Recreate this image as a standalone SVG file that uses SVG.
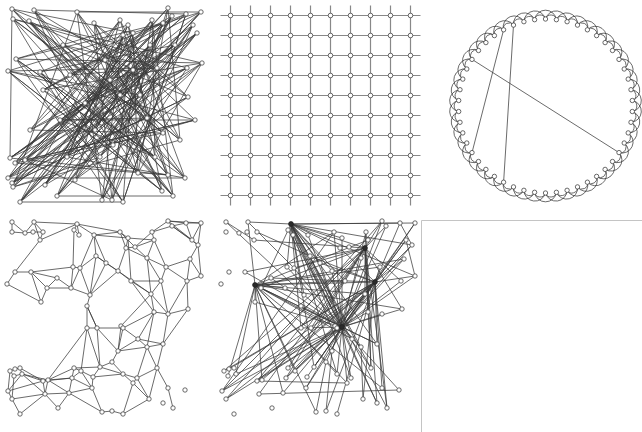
<svg xmlns="http://www.w3.org/2000/svg" width="642" height="432" viewBox="0 0 642 432">
<style>
.e{fill:none;stroke:#3a3a3a;stroke-width:.75}
.gl{fill:none;stroke:#888;stroke-width:1.2}
.n circle{fill:#fff;stroke:#444;stroke-width:.8}
.h circle{fill:#2a2a2a;stroke:#222}
.fr{fill:none;stroke:#c4c4c4;stroke-width:1}
</style>
<rect width="642" height="432" fill="#fff"/>
<path class="fr" d="M421.5 432V220.5H642"/>
<g id="connectors">
<g id="edges-random">
<path class="e" d="M12 9L163 133L13 19L173 196L34 10L185 178L16 59L163 23L8 178L147 118L77 12L162 191L8 71L201 12L20 202L133 70L29 21L168 175L10 158L197 33L57 196L128 25L15 163L187 68L102 200L168 8L12 183L188 97L94 23L138 173L202 63L43 90L172 16L100 157L13 187L180 140L120 20L75 180L193 25L113 145L85 103L186 14L123 202L40 72L155 157L152 20L45 185L133 33L30 130L157 68L112 200L25 160L175 45L60 120L195 120L67 157L123 35L95 130L150 45L20 202"/>
<path class="e" d="M34 10L100 157L197 33L8 178L120 20L168 175L12 9L157 68L57 196L172 16L85 103L10 158L133 70L123 202L13 19L187 68L120 95L13 187L152 20L140 95L8 71L162 191L128 25L67 157L201 12L15 163L163 133L105 60L185 178L29 21L70 75L173 196L123 35L102 200L77 12L180 140L63 45L188 97L12 183L163 23L95 130L202 63L20 202L110 80L186 14L43 90L155 157L16 59L112 200L193 25L60 120L147 118L94 23L195 120L25 160L168 8L138 173L133 33L45 185L113 145L40 72L175 45L30 130"/>
<path class="e" d="M77 12L13 187L175 45L10 158L140 95L57 196L202 63L13 19L147 118L102 200L150 45L8 178L187 68L85 103L173 196L152 20L25 160L195 120L8 71L100 157L193 25L20 202L120 20L30 130L163 133L29 21L120 95L162 191L43 90L201 12L67 157L185 178L128 25L16 59L138 173L34 10L133 70L45 185L197 33L12 183L95 130L172 16L75 180L188 97L123 35L15 163L168 175L94 23L112 200L133 33L12 9L155 157L60 120L123 202L186 14L40 72L113 145L163 23L70 75L157 68L63 45L180 140L168 8"/>
<path class="e" d="M12 9L10 158M34 10L186 14M77 12L201 12M8 71L157 68M16 59L202 63M8 178L185 178M20 202L123 202M57 196L173 196"/>
</g>
<g id="edges-grid">
<path class="gl" d="M220.5 15.5H420.5M220.5 35.5H420.5M220.5 55.5H420.5M220.5 75.5H420.5M220.5 95.5H420.5M220.5 115.5H420.5M220.5 135.5H420.5M220.5 155.5H420.5M220.5 175.5H420.5M220.5 195.5H420.5M230.5 5.5V205.5M250.5 5.5V205.5M270.5 5.5V205.5M290.5 5.5V205.5M310.5 5.5V205.5M330.5 5.5V205.5M350.5 5.5V205.5M370.5 5.5V205.5M390.5 5.5V205.5M410.5 5.5V205.5"/>
</g>
<g id="edges-ring">
<path class="e" d="M545.5 19A5.6 5.6 0 0 1 556.4 19.7A5.6 5.6 0 0 1 567.1 21.7A5.6 5.6 0 0 1 577.5 25.1A5.6 5.6 0 0 1 587.4 29.8A5.6 5.6 0 0 1 596.6 35.6A5.6 5.6 0 0 1 605.1 42.6A5.6 5.6 0 0 1 612.5 50.5A5.6 5.6 0 0 1 619 59.4A5.6 5.6 0 0 1 624.2 69A5.6 5.6 0 0 1 628.2 79.1A5.6 5.6 0 0 1 631 89.7A5.6 5.6 0 0 1 632.3 100.5A5.6 5.6 0 0 1 632.3 111.5A5.6 5.6 0 0 1 631 122.3A5.6 5.6 0 0 1 628.2 132.9A5.6 5.6 0 0 1 624.2 143A5.6 5.6 0 0 1 619 152.6A5.6 5.6 0 0 1 612.5 161.5A5.6 5.6 0 0 1 605.1 169.4A5.6 5.6 0 0 1 596.6 176.4A5.6 5.6 0 0 1 587.4 182.2A5.6 5.6 0 0 1 577.5 186.9A5.6 5.6 0 0 1 567.1 190.3A5.6 5.6 0 0 1 556.4 192.3A5.6 5.6 0 0 1 545.5 193A5.6 5.6 0 0 1 534.6 192.3A5.6 5.6 0 0 1 523.9 190.3A5.6 5.6 0 0 1 513.5 186.9A5.6 5.6 0 0 1 503.6 182.2A5.6 5.6 0 0 1 494.4 176.4A5.6 5.6 0 0 1 485.9 169.4A5.6 5.6 0 0 1 478.5 161.5A5.6 5.6 0 0 1 472 152.6A5.6 5.6 0 0 1 466.8 143A5.6 5.6 0 0 1 462.8 132.9A5.6 5.6 0 0 1 460 122.3A5.6 5.6 0 0 1 458.7 111.5A5.6 5.6 0 0 1 458.7 100.5A5.6 5.6 0 0 1 460 89.7A5.6 5.6 0 0 1 462.8 79.1A5.6 5.6 0 0 1 466.8 69A5.6 5.6 0 0 1 472 59.4A5.6 5.6 0 0 1 478.5 50.5A5.6 5.6 0 0 1 485.9 42.6A5.6 5.6 0 0 1 494.4 35.6A5.6 5.6 0 0 1 503.6 29.8A5.6 5.6 0 0 1 513.5 25.1A5.6 5.6 0 0 1 523.9 21.7A5.6 5.6 0 0 1 534.6 19.7A5.6 5.6 0 0 1 545.5 19"/>
<path class="e" d="M545.5 19A11 11 0 0 1 567.1 21.7A11 11 0 0 1 587.4 29.8A11 11 0 0 1 605.1 42.6A11 11 0 0 1 619 59.4A11 11 0 0 1 628.2 79.1A11 11 0 0 1 632.3 100.5A11 11 0 0 1 631 122.3A11 11 0 0 1 624.2 143A11 11 0 0 1 612.5 161.5A11 11 0 0 1 596.6 176.4A11 11 0 0 1 577.5 186.9A11 11 0 0 1 556.4 192.3A11 11 0 0 1 534.6 192.3A11 11 0 0 1 513.5 186.9A11 11 0 0 1 494.4 176.4A11 11 0 0 1 478.5 161.5A11 11 0 0 1 466.8 143A11 11 0 0 1 460 122.3A11 11 0 0 1 458.7 100.5A11 11 0 0 1 462.8 79.1A11 11 0 0 1 472 59.4A11 11 0 0 1 485.9 42.6A11 11 0 0 1 503.6 29.8A11 11 0 0 1 523.9 21.7A11 11 0 0 1 545.5 19"/>
<path class="e" d="M556.4 19.7A11 11 0 0 1 577.5 25.1A11 11 0 0 1 596.6 35.6A11 11 0 0 1 612.5 50.5A11 11 0 0 1 624.2 69A11 11 0 0 1 631 89.7A11 11 0 0 1 632.3 111.5A11 11 0 0 1 628.2 132.9A11 11 0 0 1 619 152.6A11 11 0 0 1 605.1 169.4A11 11 0 0 1 587.4 182.2A11 11 0 0 1 567.1 190.3A11 11 0 0 1 545.5 193A11 11 0 0 1 523.9 190.3A11 11 0 0 1 503.6 182.2A11 11 0 0 1 485.9 169.4A11 11 0 0 1 472 152.6A11 11 0 0 1 462.8 132.9A11 11 0 0 1 458.7 111.5A11 11 0 0 1 460 89.7A11 11 0 0 1 466.8 69A11 11 0 0 1 478.5 50.5A11 11 0 0 1 494.4 35.6A11 11 0 0 1 513.5 25.1A11 11 0 0 1 534.6 19.7A11 11 0 0 1 556.4 19.7"/>
<path class="e" d="M472 59.4L619 152.6M503.6 29.8L472 152.6M513.5 25.1L503.6 182.2"/>
</g>
<g id="edges-geometric">
<path class="e" d="M12 222L25 233L34 222L43 232L40 240L34 222M12 232L25 233L33 232L43 232M40 240L77 224L34 222M40 240L15 272L31 272L73 267L80 268L96 256L94 235L77 224L74 230L79 235L77 224M94 235L120 232L128 238L126 248L120 232M94 235L106 263L96 256M126 248L135 247L152 232L168 221M152 232L154 240L147 258L166 267L190 259L198 245M154 240L166 267M168 221L172 226L186 223L168 221L192 240L172 226L198 245L192 240L186 223L201 223L192 240M201 223L198 245M168 221L201 223M190 259L201 276L187 281L168 314L188 309M161 281L151 294L154 312L168 314M161 281L131 281L118 271L106 263M131 281L151 294M131 281L154 312M118 271L151 294M15 272L7 284M80 268L71 288L57 278L47 288L41 302M31 272L57 278M106 263L90 295L96 256M90 295L87 306L87 328L97 328L87 306M90 295L118 271M71 288L90 295M97 328L123 328L121 326M123 328L138 339L147 347L163 344L157 368L147 347M138 339L163 344M121 326L151 294M123 328L154 312M138 339L154 312M163 344L168 314M163 344L188 309M87 328L81 371L74 368L72 378L81 371L93 377L100 367L112 362L118 351L121 326M118 351L147 347M112 362L123 374L133 383L137 378L123 374M137 378L157 368M133 383L149 399M92 388L93 377L123 374M100 367L123 374M72 378L69 393M87 328L48 380L43 381L45 394L48 380M22 374L48 380M22 374L43 381M20 368L22 374M15 369L20 368M10 371L15 369M10 371L14 376L22 374M8 391L22 374M8 391L12 399L20 414M8 391L43 381M12 399L45 394M45 394L69 393M45 394L58 408M48 380L69 393M74 368L48 380M69 393L102 412L112 411L123 414L149 399M173 408L168 388L157 368M128 238L131 281M126 248L118 271M94 235L80 268M74 230L73 267M147 258L161 281M147 258L151 294M94 235L128 238M120 232L135 247M172 226L152 232M12 222L12 232M7 284L41 302M41 302L31 272"/>
<path class="e" d="M77 224L120 232M128 238L154 240M126 248L147 258M135 247L147 258M135 247L154 240M96 256L118 271M80 268L90 295M73 267L71 288M31 272L47 288M47 288L71 288M87 306L97 328M151 294L168 314M161 281L168 314M166 267L187 281M166 267L161 281M190 259L187 281M198 245L201 276M187 281L188 309M154 312L147 347M123 328L118 351M138 339L118 351M147 347L137 378M157 368L149 399M137 378L149 399M81 371L92 388M72 378L92 388M69 393L92 388M74 368L100 367M87 328L100 367M97 328L100 367M97 328L118 351M48 380L72 378M43 381L72 378M20 368L43 381M10 371L8 391M14 376L12 399M22 374L45 394M58 408L69 393M20 414L45 394M102 412L92 388M123 414L133 383"/>
</g>
<g id="edges-scalefree" transform="translate(214 0)">
<path class="e" d="M77 224L94 235M77 224L126 248M77 224L106 263M77 224L118 271M77 224L131 281M77 224L90 295M77 224L87 328M77 224L123 328M77 224L147 347M77 224L157 368M77 224L163 344M77 224L137 378M77 224L163 403M77 224L173 408M77 224L201 223M77 224L186 223M77 224L198 245M77 224L201 276M77 224L128 238M77 224L73 267M77 224L47 288M77 224L123 374M77 224L100 367"/>
<path class="e" d="M151 248L77 224M151 248L40 240M151 248L31 272M151 248L47 288M151 248L43 381M151 248L8 391M151 248L10 371M151 248L45 394M151 248L72 378M151 248L74 368M151 248L97 328M151 248L118 351M151 248L151 294M151 248L154 312M151 248L157 368M151 248L173 408M151 248L163 403M151 248L172 226M151 248L168 221M151 248L152 232M151 248L188 309M151 248L187 281M151 248L80 268"/>
<path class="e" d="M41 285L34 222M41 285L120 232M41 285L154 240M41 285L190 259M41 285L161 282M41 285L166 267M41 285L131 281M41 285L151 294M41 285L188 309M41 285L123 328M41 285L138 339M41 285L163 344M41 285L168 388M41 285L133 383M41 285L123 374M41 285L48 380M41 285L69 393M41 285L81 371M41 285L102 412M41 285L14 376M41 285L22 374M41 285L71 288M41 285L41 302"/>
<path class="e" d="M161 282L8 391M161 282L12 399M161 282L43 381M161 282L48 380M161 282L10 371M161 282L15 369M161 282L72 378M161 282L69 393M161 282L81 371M161 282L100 367M161 282L92 388M161 282L112 411M161 282L123 414M161 282L149 399M161 282L168 388M161 282L173 408M161 282L163 344M161 282L123 328M161 282L192 240M161 282L201 223M161 282L186 223M161 282L198 245M161 282L190 259M161 282L201 276M161 282L166 267M161 282L106 263M161 282L96 256M161 282L126 248M161 282L57 278"/>
<path class="e" d="M128 327L74 230M128 327L79 235M128 327L94 235M128 327L120 232M128 327L128 238M128 327L152 232M128 327L168 221M128 327L172 226M128 327L201 223M128 327L192 240M128 327L198 245M128 327L190 259M128 327L187 281M128 327L201 276M128 327L188 309M128 327L168 314M128 327L154 312M128 327L151 294M128 327L118 271M128 327L106 263M128 327L96 256M128 327L80 268M128 327L73 267M128 327L57 278M128 327L47 288M128 327L41 302M128 327L31 272M128 327L90 295M128 327L87 306M128 327L87 328M128 327L147 347M128 327L163 344M128 327L157 368M128 327L185 390M128 327L163 403M128 327L137 378M128 327L133 383M128 327L123 374M128 327L112 362M128 327L100 367M128 327L93 377M128 327L92 388M128 327L81 371M128 327L74 368M128 327L72 378M128 327L43 381M128 327L8 391M128 327L12 399M128 327L22 374"/>
<path class="e" d="M12 222L40 240M34 222L77 224M43 232L96 256M43 381L133 383M45 394L185 390M152 232L157 368M149 399L147 347M186 223L198 245M192 240L201 276M102 412L112 362M112 411L118 351M12 222L90 295M34 222L80 268M8 391L120 232M12 399L168 221"/>
</g>
</g>
<g id="nodes-random" class="n">
<g id="a1"><circle cx="12" cy="9" r="2.2"/></g><g id="a2"><circle cx="34" cy="10" r="2.2"/></g><g id="a3"><circle cx="77" cy="12" r="2.2"/></g><g id="a4"><circle cx="168" cy="8" r="2.2"/></g><g id="a5"><circle cx="172" cy="16" r="2.2"/></g><g id="a6"><circle cx="186" cy="14" r="2.2"/></g><g id="a7"><circle cx="201" cy="12" r="2.2"/></g><g id="a8"><circle cx="13" cy="19" r="2.2"/></g><g id="a9"><circle cx="29" cy="21" r="2.2"/></g><g id="a10"><circle cx="94" cy="23" r="2.2"/></g><g id="a11"><circle cx="120" cy="20" r="2.2"/></g><g id="a12"><circle cx="128" cy="25" r="2.2"/></g><g id="a13"><circle cx="152" cy="20" r="2.2"/></g><g id="a14"><circle cx="163" cy="23" r="2.2"/></g><g id="a15"><circle cx="193" cy="25" r="2.2"/></g><g id="a16"><circle cx="197" cy="33" r="2.2"/></g><g id="a17"><circle cx="133" cy="33" r="2.2"/></g><g id="a18"><circle cx="123" cy="35" r="2.2"/></g><g id="a19"><circle cx="16" cy="59" r="2.2"/></g><g id="a20"><circle cx="8" cy="71" r="2.2"/></g><g id="a21"><circle cx="202" cy="63" r="2.2"/></g><g id="a22"><circle cx="187" cy="68" r="2.2"/></g><g id="a23"><circle cx="157" cy="68" r="2.2"/></g><g id="a24"><circle cx="133" cy="70" r="2.2"/></g><g id="a25"><circle cx="43" cy="90" r="2.2"/></g><g id="a26"><circle cx="85" cy="103" r="2.2"/></g><g id="a27"><circle cx="147" cy="118" r="2.2"/></g><g id="a28"><circle cx="188" cy="97" r="2.2"/></g><g id="a29"><circle cx="163" cy="133" r="2.2"/></g><g id="a30"><circle cx="10" cy="158" r="2.2"/></g><g id="a31"><circle cx="15" cy="163" r="2.2"/></g><g id="a32"><circle cx="25" cy="160" r="2.2"/></g><g id="a33"><circle cx="8" cy="178" r="2.2"/></g><g id="a34"><circle cx="12" cy="183" r="2.2"/></g><g id="a35"><circle cx="13" cy="187" r="2.2"/></g><g id="a36"><circle cx="185" cy="178" r="2.2"/></g><g id="a37"><circle cx="168" cy="175" r="2.2"/></g><g id="a38"><circle cx="155" cy="157" r="2.2"/></g><g id="a39"><circle cx="20" cy="202" r="2.2"/></g><g id="a40"><circle cx="57" cy="196" r="2.2"/></g><g id="a41"><circle cx="102" cy="200" r="2.2"/></g><g id="a42"><circle cx="112" cy="200" r="2.2"/></g><g id="a43"><circle cx="123" cy="202" r="2.2"/></g><g id="a44"><circle cx="162" cy="191" r="2.2"/></g><g id="a45"><circle cx="173" cy="196" r="2.2"/></g><g id="a46"><circle cx="113" cy="145" r="2.2"/></g><g id="a47"><circle cx="100" cy="157" r="2.2"/></g><g id="a48"><circle cx="67" cy="157" r="2.2"/></g><g id="a49"><circle cx="138" cy="173" r="2.2"/></g><g id="a50"><circle cx="40" cy="72" r="2.2"/></g><g id="a51"><circle cx="63" cy="45" r="2.2"/></g><g id="a52"><circle cx="105" cy="60" r="2.2"/></g><g id="a53"><circle cx="175" cy="45" r="2.2"/></g><g id="a54"><circle cx="60" cy="120" r="2.2"/></g><g id="a55"><circle cx="30" cy="130" r="2.2"/></g><g id="a56"><circle cx="120" cy="95" r="2.2"/></g><g id="a57"><circle cx="95" cy="130" r="2.2"/></g><g id="a58"><circle cx="180" cy="140" r="2.2"/></g><g id="a59"><circle cx="140" cy="95" r="2.2"/></g><g id="a60"><circle cx="75" cy="180" r="2.2"/></g><g id="a61"><circle cx="45" cy="185" r="2.2"/></g><g id="a62"><circle cx="195" cy="120" r="2.2"/></g><g id="a63"><circle cx="70" cy="75" r="2.2"/></g><g id="a64"><circle cx="110" cy="80" r="2.2"/></g><g id="a65"><circle cx="150" cy="45" r="2.2"/></g>
</g>
<g id="nodes-grid" class="n">
<g id="g00"><circle cx="230.5" cy="15.5" r="2.3"/></g><g id="g01"><circle cx="250.5" cy="15.5" r="2.3"/></g><g id="g02"><circle cx="270.5" cy="15.5" r="2.3"/></g><g id="g03"><circle cx="290.5" cy="15.5" r="2.3"/></g><g id="g04"><circle cx="310.5" cy="15.5" r="2.3"/></g><g id="g05"><circle cx="330.5" cy="15.5" r="2.3"/></g><g id="g06"><circle cx="350.5" cy="15.5" r="2.3"/></g><g id="g07"><circle cx="370.5" cy="15.5" r="2.3"/></g><g id="g08"><circle cx="390.5" cy="15.5" r="2.3"/></g><g id="g09"><circle cx="410.5" cy="15.5" r="2.3"/></g>
<g id="g10"><circle cx="230.5" cy="35.5" r="2.3"/></g><g id="g11"><circle cx="250.5" cy="35.5" r="2.3"/></g><g id="g12"><circle cx="270.5" cy="35.5" r="2.3"/></g><g id="g13"><circle cx="290.5" cy="35.5" r="2.3"/></g><g id="g14"><circle cx="310.5" cy="35.5" r="2.3"/></g><g id="g15"><circle cx="330.5" cy="35.5" r="2.3"/></g><g id="g16"><circle cx="350.5" cy="35.5" r="2.3"/></g><g id="g17"><circle cx="370.5" cy="35.5" r="2.3"/></g><g id="g18"><circle cx="390.5" cy="35.5" r="2.3"/></g><g id="g19"><circle cx="410.5" cy="35.5" r="2.3"/></g>
<g id="g20"><circle cx="230.5" cy="55.5" r="2.3"/></g><g id="g21"><circle cx="250.5" cy="55.5" r="2.3"/></g><g id="g22"><circle cx="270.5" cy="55.5" r="2.3"/></g><g id="g23"><circle cx="290.5" cy="55.5" r="2.3"/></g><g id="g24"><circle cx="310.5" cy="55.5" r="2.3"/></g><g id="g25"><circle cx="330.5" cy="55.5" r="2.3"/></g><g id="g26"><circle cx="350.5" cy="55.5" r="2.3"/></g><g id="g27"><circle cx="370.5" cy="55.5" r="2.3"/></g><g id="g28"><circle cx="390.5" cy="55.5" r="2.3"/></g><g id="g29"><circle cx="410.5" cy="55.5" r="2.3"/></g>
<g id="g30"><circle cx="230.5" cy="75.5" r="2.3"/></g><g id="g31"><circle cx="250.5" cy="75.5" r="2.3"/></g><g id="g32"><circle cx="270.5" cy="75.5" r="2.3"/></g><g id="g33"><circle cx="290.5" cy="75.5" r="2.3"/></g><g id="g34"><circle cx="310.5" cy="75.5" r="2.3"/></g><g id="g35"><circle cx="330.5" cy="75.5" r="2.3"/></g><g id="g36"><circle cx="350.5" cy="75.5" r="2.3"/></g><g id="g37"><circle cx="370.5" cy="75.5" r="2.3"/></g><g id="g38"><circle cx="390.5" cy="75.5" r="2.3"/></g><g id="g39"><circle cx="410.5" cy="75.5" r="2.3"/></g>
<g id="g40"><circle cx="230.5" cy="95.5" r="2.3"/></g><g id="g41"><circle cx="250.5" cy="95.5" r="2.3"/></g><g id="g42"><circle cx="270.5" cy="95.5" r="2.3"/></g><g id="g43"><circle cx="290.5" cy="95.5" r="2.3"/></g><g id="g44"><circle cx="310.5" cy="95.5" r="2.3"/></g><g id="g45"><circle cx="330.5" cy="95.5" r="2.3"/></g><g id="g46"><circle cx="350.5" cy="95.5" r="2.3"/></g><g id="g47"><circle cx="370.5" cy="95.5" r="2.3"/></g><g id="g48"><circle cx="390.5" cy="95.5" r="2.3"/></g><g id="g49"><circle cx="410.5" cy="95.5" r="2.3"/></g>
<g id="g50"><circle cx="230.5" cy="115.5" r="2.3"/></g><g id="g51"><circle cx="250.5" cy="115.5" r="2.3"/></g><g id="g52"><circle cx="270.5" cy="115.5" r="2.3"/></g><g id="g53"><circle cx="290.5" cy="115.5" r="2.3"/></g><g id="g54"><circle cx="310.5" cy="115.5" r="2.3"/></g><g id="g55"><circle cx="330.5" cy="115.5" r="2.3"/></g><g id="g56"><circle cx="350.5" cy="115.5" r="2.3"/></g><g id="g57"><circle cx="370.5" cy="115.5" r="2.3"/></g><g id="g58"><circle cx="390.5" cy="115.5" r="2.3"/></g><g id="g59"><circle cx="410.5" cy="115.5" r="2.3"/></g>
<g id="g60"><circle cx="230.5" cy="135.5" r="2.3"/></g><g id="g61"><circle cx="250.5" cy="135.5" r="2.3"/></g><g id="g62"><circle cx="270.5" cy="135.5" r="2.3"/></g><g id="g63"><circle cx="290.5" cy="135.5" r="2.3"/></g><g id="g64"><circle cx="310.5" cy="135.5" r="2.3"/></g><g id="g65"><circle cx="330.5" cy="135.5" r="2.3"/></g><g id="g66"><circle cx="350.5" cy="135.5" r="2.3"/></g><g id="g67"><circle cx="370.5" cy="135.5" r="2.3"/></g><g id="g68"><circle cx="390.5" cy="135.5" r="2.3"/></g><g id="g69"><circle cx="410.5" cy="135.5" r="2.3"/></g>
<g id="g70"><circle cx="230.5" cy="155.5" r="2.3"/></g><g id="g71"><circle cx="250.5" cy="155.5" r="2.3"/></g><g id="g72"><circle cx="270.5" cy="155.5" r="2.3"/></g><g id="g73"><circle cx="290.5" cy="155.5" r="2.3"/></g><g id="g74"><circle cx="310.5" cy="155.5" r="2.3"/></g><g id="g75"><circle cx="330.5" cy="155.5" r="2.3"/></g><g id="g76"><circle cx="350.5" cy="155.5" r="2.3"/></g><g id="g77"><circle cx="370.5" cy="155.5" r="2.3"/></g><g id="g78"><circle cx="390.5" cy="155.5" r="2.3"/></g><g id="g79"><circle cx="410.5" cy="155.5" r="2.3"/></g>
<g id="g80"><circle cx="230.5" cy="175.5" r="2.3"/></g><g id="g81"><circle cx="250.5" cy="175.5" r="2.3"/></g><g id="g82"><circle cx="270.5" cy="175.5" r="2.3"/></g><g id="g83"><circle cx="290.5" cy="175.5" r="2.3"/></g><g id="g84"><circle cx="310.5" cy="175.5" r="2.3"/></g><g id="g85"><circle cx="330.5" cy="175.5" r="2.3"/></g><g id="g86"><circle cx="350.5" cy="175.5" r="2.3"/></g><g id="g87"><circle cx="370.5" cy="175.5" r="2.3"/></g><g id="g88"><circle cx="390.5" cy="175.5" r="2.3"/></g><g id="g89"><circle cx="410.5" cy="175.5" r="2.3"/></g>
<g id="g90"><circle cx="230.5" cy="195.5" r="2.3"/></g><g id="g91"><circle cx="250.5" cy="195.5" r="2.3"/></g><g id="g92"><circle cx="270.5" cy="195.5" r="2.3"/></g><g id="g93"><circle cx="290.5" cy="195.5" r="2.3"/></g><g id="g94"><circle cx="310.5" cy="195.5" r="2.3"/></g><g id="g95"><circle cx="330.5" cy="195.5" r="2.3"/></g><g id="g96"><circle cx="350.5" cy="195.5" r="2.3"/></g><g id="g97"><circle cx="370.5" cy="195.5" r="2.3"/></g><g id="g98"><circle cx="390.5" cy="195.5" r="2.3"/></g><g id="g99"><circle cx="410.5" cy="195.5" r="2.3"/></g>
</g>
<g id="nodes-ring" class="n">
<g id="r0"><circle cx="545.5" cy="19" r="2.2"/></g><g id="r1"><circle cx="556.4" cy="19.7" r="2.2"/></g><g id="r2"><circle cx="567.1" cy="21.7" r="2.2"/></g><g id="r3"><circle cx="577.5" cy="25.1" r="2.2"/></g><g id="r4"><circle cx="587.4" cy="29.8" r="2.2"/></g><g id="r5"><circle cx="596.6" cy="35.6" r="2.2"/></g><g id="r6"><circle cx="605.1" cy="42.6" r="2.2"/></g><g id="r7"><circle cx="612.5" cy="50.5" r="2.2"/></g><g id="r8"><circle cx="619" cy="59.4" r="2.2"/></g><g id="r9"><circle cx="624.2" cy="69" r="2.2"/></g><g id="r10"><circle cx="628.2" cy="79.1" r="2.2"/></g><g id="r11"><circle cx="631" cy="89.7" r="2.2"/></g><g id="r12"><circle cx="632.3" cy="100.5" r="2.2"/></g><g id="r13"><circle cx="632.3" cy="111.5" r="2.2"/></g><g id="r14"><circle cx="631" cy="122.3" r="2.2"/></g><g id="r15"><circle cx="628.2" cy="132.9" r="2.2"/></g><g id="r16"><circle cx="624.2" cy="143" r="2.2"/></g><g id="r17"><circle cx="619" cy="152.6" r="2.2"/></g><g id="r18"><circle cx="612.5" cy="161.5" r="2.2"/></g><g id="r19"><circle cx="605.1" cy="169.4" r="2.2"/></g><g id="r20"><circle cx="596.6" cy="176.4" r="2.2"/></g><g id="r21"><circle cx="587.4" cy="182.2" r="2.2"/></g><g id="r22"><circle cx="577.5" cy="186.9" r="2.2"/></g><g id="r23"><circle cx="567.1" cy="190.3" r="2.2"/></g><g id="r24"><circle cx="556.4" cy="192.3" r="2.2"/></g><g id="r25"><circle cx="545.5" cy="193" r="2.2"/></g><g id="r26"><circle cx="534.6" cy="192.3" r="2.2"/></g><g id="r27"><circle cx="523.9" cy="190.3" r="2.2"/></g><g id="r28"><circle cx="513.5" cy="186.9" r="2.2"/></g><g id="r29"><circle cx="503.6" cy="182.2" r="2.2"/></g><g id="r30"><circle cx="494.4" cy="176.4" r="2.2"/></g><g id="r31"><circle cx="485.9" cy="169.4" r="2.2"/></g><g id="r32"><circle cx="478.5" cy="161.5" r="2.2"/></g><g id="r33"><circle cx="472" cy="152.6" r="2.2"/></g><g id="r34"><circle cx="466.8" cy="143" r="2.2"/></g><g id="r35"><circle cx="462.8" cy="132.9" r="2.2"/></g><g id="r36"><circle cx="460" cy="122.3" r="2.2"/></g><g id="r37"><circle cx="458.7" cy="111.5" r="2.2"/></g><g id="r38"><circle cx="458.7" cy="100.5" r="2.2"/></g><g id="r39"><circle cx="460" cy="89.7" r="2.2"/></g><g id="r40"><circle cx="462.8" cy="79.1" r="2.2"/></g><g id="r41"><circle cx="466.8" cy="69" r="2.2"/></g><g id="r42"><circle cx="472" cy="59.4" r="2.2"/></g><g id="r43"><circle cx="478.5" cy="50.5" r="2.2"/></g><g id="r44"><circle cx="485.9" cy="42.6" r="2.2"/></g><g id="r45"><circle cx="494.4" cy="35.6" r="2.2"/></g><g id="r46"><circle cx="503.6" cy="29.8" r="2.2"/></g><g id="r47"><circle cx="513.5" cy="25.1" r="2.2"/></g><g id="r48"><circle cx="523.9" cy="21.7" r="2.2"/></g><g id="r49"><circle cx="534.6" cy="19.7" r="2.2"/></g>
</g>
<g id="nodes-geometric" class="n">
<g id="s1"><circle cx="12" cy="222" r="2.2"/></g><g id="s2"><circle cx="12" cy="232" r="2.2"/></g><g id="s3"><circle cx="25" cy="233" r="2.2"/></g><g id="s4"><circle cx="34" cy="222" r="2.2"/></g><g id="s5"><circle cx="33" cy="232" r="2.2"/></g><g id="s6"><circle cx="43" cy="232" r="2.2"/></g><g id="s7"><circle cx="40" cy="240" r="2.2"/></g><g id="s8"><circle cx="77" cy="224" r="2.2"/></g><g id="s9"><circle cx="74" cy="230" r="2.2"/></g><g id="s10"><circle cx="79" cy="235" r="2.2"/></g><g id="s11"><circle cx="94" cy="235" r="2.2"/></g><g id="s12"><circle cx="120" cy="232" r="2.2"/></g><g id="s13"><circle cx="128" cy="238" r="2.2"/></g><g id="s14"><circle cx="126" cy="248" r="2.2"/></g><g id="s15"><circle cx="135" cy="247" r="2.2"/></g><g id="s16"><circle cx="152" cy="232" r="2.2"/></g><g id="s17"><circle cx="154" cy="240" r="2.2"/></g><g id="s18"><circle cx="147" cy="258" r="2.2"/></g><g id="s19"><circle cx="168" cy="221" r="2.2"/></g><g id="s20"><circle cx="172" cy="226" r="2.2"/></g><g id="s21"><circle cx="186" cy="223" r="2.2"/></g><g id="s22"><circle cx="201" cy="223" r="2.2"/></g><g id="s23"><circle cx="192" cy="240" r="2.2"/></g><g id="s24"><circle cx="198" cy="245" r="2.2"/></g><g id="s25"><circle cx="190" cy="259" r="2.2"/></g><g id="s26"><circle cx="166" cy="267" r="2.2"/></g><g id="s27"><circle cx="161" cy="281" r="2.2"/></g><g id="s28"><circle cx="187" cy="281" r="2.2"/></g><g id="s29"><circle cx="201" cy="276" r="2.2"/></g><g id="s30"><circle cx="188" cy="309" r="2.2"/></g><g id="s31"><circle cx="168" cy="314" r="2.2"/></g><g id="s32"><circle cx="154" cy="312" r="2.2"/></g><g id="s33"><circle cx="151" cy="294" r="2.2"/></g><g id="s34"><circle cx="131" cy="281" r="2.2"/></g><g id="s35"><circle cx="118" cy="271" r="2.2"/></g><g id="s36"><circle cx="106" cy="263" r="2.2"/></g><g id="s37"><circle cx="96" cy="256" r="2.2"/></g><g id="s38"><circle cx="80" cy="268" r="2.2"/></g><g id="s39"><circle cx="73" cy="267" r="2.2"/></g><g id="s40"><circle cx="57" cy="278" r="2.2"/></g><g id="s41"><circle cx="47" cy="288" r="2.2"/></g><g id="s42"><circle cx="41" cy="302" r="2.2"/></g><g id="s43"><circle cx="31" cy="272" r="2.2"/></g><g id="s44"><circle cx="15" cy="272" r="2.2"/></g><g id="s45"><circle cx="7" cy="284" r="2.2"/></g><g id="s46"><circle cx="71" cy="288" r="2.2"/></g><g id="s47"><circle cx="90" cy="295" r="2.2"/></g><g id="s48"><circle cx="87" cy="306" r="2.2"/></g><g id="s49"><circle cx="87" cy="328" r="2.2"/></g><g id="s50"><circle cx="97" cy="328" r="2.2"/></g><g id="s51"><circle cx="121" cy="326" r="2.2"/></g><g id="s52"><circle cx="123" cy="328" r="2.2"/></g><g id="s53"><circle cx="138" cy="339" r="2.2"/></g><g id="s54"><circle cx="147" cy="347" r="2.2"/></g><g id="s55"><circle cx="163" cy="344" r="2.2"/></g><g id="s56"><circle cx="157" cy="368" r="2.2"/></g><g id="s57"><circle cx="168" cy="388" r="2.2"/></g><g id="s58"><circle cx="173" cy="408" r="2.2"/></g><g id="s59"><circle cx="185" cy="390" r="2.2"/></g><g id="s60"><circle cx="163" cy="403" r="2.2"/></g><g id="s61"><circle cx="149" cy="399" r="2.2"/></g><g id="s62"><circle cx="137" cy="378" r="2.2"/></g><g id="s63"><circle cx="133" cy="383" r="2.2"/></g><g id="s64"><circle cx="123" cy="374" r="2.2"/></g><g id="s65"><circle cx="118" cy="351" r="2.2"/></g><g id="s66"><circle cx="112" cy="362" r="2.2"/></g><g id="s67"><circle cx="100" cy="367" r="2.2"/></g><g id="s68"><circle cx="93" cy="377" r="2.2"/></g><g id="s69"><circle cx="92" cy="388" r="2.2"/></g><g id="s70"><circle cx="81" cy="371" r="2.2"/></g><g id="s71"><circle cx="74" cy="368" r="2.2"/></g><g id="s72"><circle cx="72" cy="378" r="2.2"/></g><g id="s73"><circle cx="69" cy="393" r="2.2"/></g><g id="s74"><circle cx="48" cy="380" r="2.2"/></g><g id="s75"><circle cx="43" cy="381" r="2.2"/></g><g id="s76"><circle cx="45" cy="394" r="2.2"/></g><g id="s77"><circle cx="58" cy="408" r="2.2"/></g><g id="s78"><circle cx="20" cy="414" r="2.2"/></g><g id="s79"><circle cx="8" cy="391" r="2.2"/></g><g id="s80"><circle cx="12" cy="399" r="2.2"/></g><g id="s81"><circle cx="10" cy="371" r="2.2"/></g><g id="s82"><circle cx="15" cy="369" r="2.2"/></g><g id="s83"><circle cx="20" cy="368" r="2.2"/></g><g id="s84"><circle cx="22" cy="374" r="2.2"/></g><g id="s85"><circle cx="14" cy="376" r="2.2"/></g><g id="s86"><circle cx="102" cy="412" r="2.2"/></g><g id="s87"><circle cx="112" cy="411" r="2.2"/></g><g id="s88"><circle cx="123" cy="414" r="2.2"/></g>
</g>
<g id="nodes-scalefree" class="n" transform="translate(214 0)">
<g id="t1"><circle cx="12" cy="222" r="2.2"/></g><g id="t2"><circle cx="12" cy="232" r="2.2"/></g><g id="t3"><circle cx="25" cy="233" r="2.2"/></g><g id="t4"><circle cx="34" cy="222" r="2.2"/></g><g id="t5"><circle cx="33" cy="232" r="2.2"/></g><g id="t6"><circle cx="43" cy="232" r="2.2"/></g><g id="t7"><circle cx="40" cy="240" r="2.2"/></g><g id="t8" class="h"><circle cx="77" cy="224" r="2.4"/></g><g id="t9"><circle cx="74" cy="230" r="2.2"/></g><g id="t10"><circle cx="79" cy="235" r="2.2"/></g><g id="t11"><circle cx="94" cy="235" r="2.2"/></g><g id="t12"><circle cx="120" cy="232" r="2.2"/></g><g id="t13"><circle cx="128" cy="238" r="2.2"/></g><g id="t14"><circle cx="126" cy="248" r="2.2"/></g><g id="t15"><circle cx="135" cy="247" r="2.2"/></g><g id="t16"><circle cx="152" cy="232" r="2.2"/></g><g id="t17"><circle cx="154" cy="240" r="2.2"/></g><g id="t18"><circle cx="147" cy="258" r="2.2"/></g><g id="t19"><circle cx="168" cy="221" r="2.2"/></g><g id="t20"><circle cx="172" cy="226" r="2.2"/></g><g id="t21"><circle cx="186" cy="223" r="2.2"/></g><g id="t22"><circle cx="201" cy="223" r="2.2"/></g><g id="t23"><circle cx="192" cy="240" r="2.2"/></g><g id="t24"><circle cx="198" cy="245" r="2.2"/></g><g id="t25"><circle cx="190" cy="259" r="2.2"/></g><g id="t26"><circle cx="166" cy="267" r="2.2"/></g><g id="t27" class="h"><circle cx="161" cy="282" r="2.4"/></g><g id="t28"><circle cx="187" cy="281" r="2.2"/></g><g id="t29"><circle cx="201" cy="276" r="2.2"/></g><g id="t30"><circle cx="188" cy="309" r="2.2"/></g><g id="t31"><circle cx="168" cy="314" r="2.2"/></g><g id="t32"><circle cx="154" cy="312" r="2.2"/></g><g id="t33"><circle cx="151" cy="294" r="2.2"/></g><g id="t34"><circle cx="131" cy="281" r="2.2"/></g><g id="t35"><circle cx="118" cy="271" r="2.2"/></g><g id="t36"><circle cx="106" cy="263" r="2.2"/></g><g id="t37"><circle cx="96" cy="256" r="2.2"/></g><g id="t38"><circle cx="80" cy="268" r="2.2"/></g><g id="t39"><circle cx="73" cy="267" r="2.2"/></g><g id="t40"><circle cx="57" cy="278" r="2.2"/></g><g id="t41"><circle cx="47" cy="288" r="2.2"/></g><g id="t42"><circle cx="41" cy="302" r="2.2"/></g><g id="t43"><circle cx="31" cy="272" r="2.2"/></g><g id="t44"><circle cx="15" cy="272" r="2.2"/></g><g id="t45"><circle cx="7" cy="284" r="2.2"/></g><g id="t46"><circle cx="71" cy="288" r="2.2"/></g><g id="t47"><circle cx="90" cy="295" r="2.2"/></g><g id="t48"><circle cx="87" cy="306" r="2.2"/></g><g id="t49"><circle cx="87" cy="328" r="2.2"/></g><g id="t50"><circle cx="97" cy="328" r="2.2"/></g><g id="t51"><circle cx="121" cy="326" r="2.2"/></g><g id="t52"><circle cx="123" cy="328" r="2.2"/></g><g id="t53"><circle cx="138" cy="339" r="2.2"/></g><g id="t54"><circle cx="147" cy="347" r="2.2"/></g><g id="t55"><circle cx="163" cy="344" r="2.2"/></g><g id="t56"><circle cx="157" cy="368" r="2.2"/></g><g id="t57"><circle cx="168" cy="388" r="2.2"/></g><g id="t58"><circle cx="173" cy="408" r="2.2"/></g><g id="t59"><circle cx="185" cy="390" r="2.2"/></g><g id="t60"><circle cx="163" cy="403" r="2.2"/></g><g id="t61"><circle cx="149" cy="399" r="2.2"/></g><g id="t62"><circle cx="137" cy="378" r="2.2"/></g><g id="t63"><circle cx="133" cy="383" r="2.2"/></g><g id="t64"><circle cx="123" cy="374" r="2.2"/></g><g id="t65"><circle cx="118" cy="351" r="2.2"/></g><g id="t66"><circle cx="112" cy="362" r="2.2"/></g><g id="t67"><circle cx="100" cy="367" r="2.2"/></g><g id="t68"><circle cx="93" cy="377" r="2.2"/></g><g id="t69"><circle cx="92" cy="388" r="2.2"/></g><g id="t70"><circle cx="81" cy="371" r="2.2"/></g><g id="t71"><circle cx="74" cy="368" r="2.2"/></g><g id="t72"><circle cx="72" cy="378" r="2.2"/></g><g id="t73"><circle cx="69" cy="393" r="2.2"/></g><g id="t74"><circle cx="48" cy="380" r="2.2"/></g><g id="t75"><circle cx="43" cy="381" r="2.2"/></g><g id="t76"><circle cx="45" cy="394" r="2.2"/></g><g id="t77"><circle cx="58" cy="408" r="2.2"/></g><g id="t78"><circle cx="20" cy="414" r="2.2"/></g><g id="t79"><circle cx="8" cy="391" r="2.2"/></g><g id="t80"><circle cx="12" cy="399" r="2.2"/></g><g id="t81"><circle cx="10" cy="371" r="2.2"/></g><g id="t82"><circle cx="15" cy="369" r="2.2"/></g><g id="t83"><circle cx="20" cy="368" r="2.2"/></g><g id="t84"><circle cx="22" cy="374" r="2.2"/></g><g id="t85"><circle cx="14" cy="376" r="2.2"/></g><g id="t86"><circle cx="102" cy="412" r="2.2"/></g><g id="t87"><circle cx="112" cy="411" r="2.2"/></g><g id="t88"><circle cx="123" cy="414" r="2.2"/></g><g id="t89" class="h"><circle cx="151" cy="248" r="2.4"/></g><g id="t90" class="h"><circle cx="41" cy="285" r="2.4"/></g><g id="t91" class="h"><circle cx="128" cy="327" r="2.4"/></g>
</g>
</svg>
